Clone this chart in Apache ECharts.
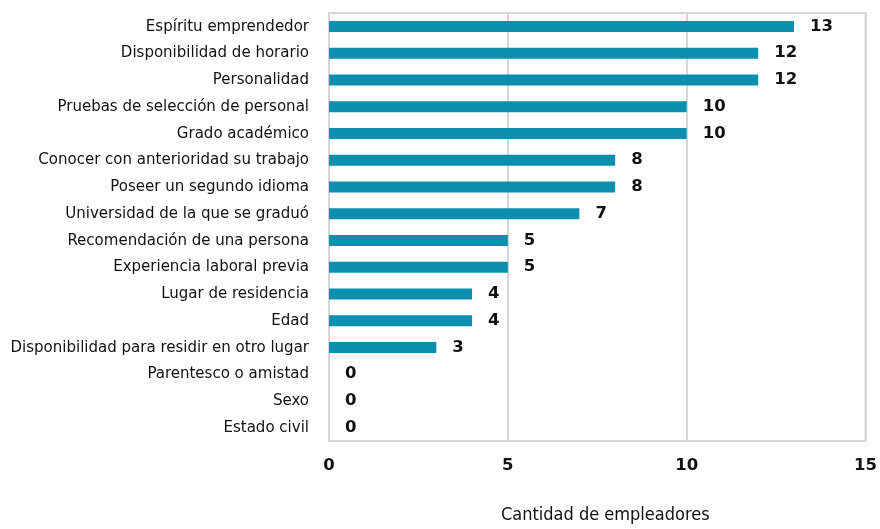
<!DOCTYPE html>
<html>
<head>
<meta charset="utf-8">
<script src="https://cdn.jsdelivr.net/npm/echarts@6/dist/echarts.min.js"></script>
<style>
  html, body { margin: 0; padding: 0; background: #fff; }
  #chart { width: 880px; height: 529px; }
</style>
</head>
<body>
<div id="chart"></div>
<script>
// Factores considerados por los empleadores
const categories = [
  'Espíritu emprendedor',
  'Disponibilidad de horario',
  'Personalidad',
  'Pruebas de selección de personal',
  'Grado académico',
  'Conocer con anterioridad su trabajo',
  'Poseer un segundo idioma',
  'Universidad de la que se graduó',
  'Recomendación de una persona',
  'Experiencia laboral previa',
  'Lugar de residencia',
  'Edad',
  'Disponibilidad para residir en otro lugar',
  'Parentesco o amistad',
  'Sexo',
  'Estado civil'
];
const values = [13, 12, 12, 10, 10, 8, 8, 7, 5, 5, 4, 4, 3, 0, 0, 0];
const axisName = 'Cantidad de empleadores';

const narrow = '"DejaVu Sans Condensed", "DejaVu Sans", sans-serif';
const wideBold = '"DejaVu Sans", sans-serif';

const chart = echarts.init(document.getElementById('chart'), null, { renderer: 'canvas' });
chart.setOption({
  animation: false,
  grid: {
    left: 329, right: 14, top: 13, bottom: 86,
    show: true, borderColor: '#d6d6d6', borderWidth: 2
  },
  xAxis: {
    type: 'value', min: 0, max: 15, interval: 5,
    name: axisName, nameLocation: 'middle', nameGap: 65,
    nameTextStyle: { fontFamily: narrow, fontSize: 18, color: '#111', padding: [0, 0, 0, 16] },
    axisLine: { show: false }, axisTick: { show: false },
    axisLabel: { margin: 16, fontFamily: wideBold, fontWeight: 'bold', fontSize: 16.5, color: '#111' },
    splitLine: { show: true, lineStyle: { color: '#d6d6d6', width: 2 } }
  },
  yAxis: {
    type: 'category', data: categories, inverse: true,
    axisLine: { show: false }, axisTick: { show: false },
    axisLabel: { margin: 20, fontFamily: narrow, fontSize: 16.7, color: '#111' }
  },
  series: [{
    type: 'bar', data: values, barWidth: 11,
    itemStyle: { color: '#0b8fae' },
    label: {
      show: true, position: 'right', distance: 16,
      fontFamily: wideBold, fontWeight: 'bold', fontSize: 16.5, color: '#111'
    }
  }]
});
</script>
</body>
</html>
